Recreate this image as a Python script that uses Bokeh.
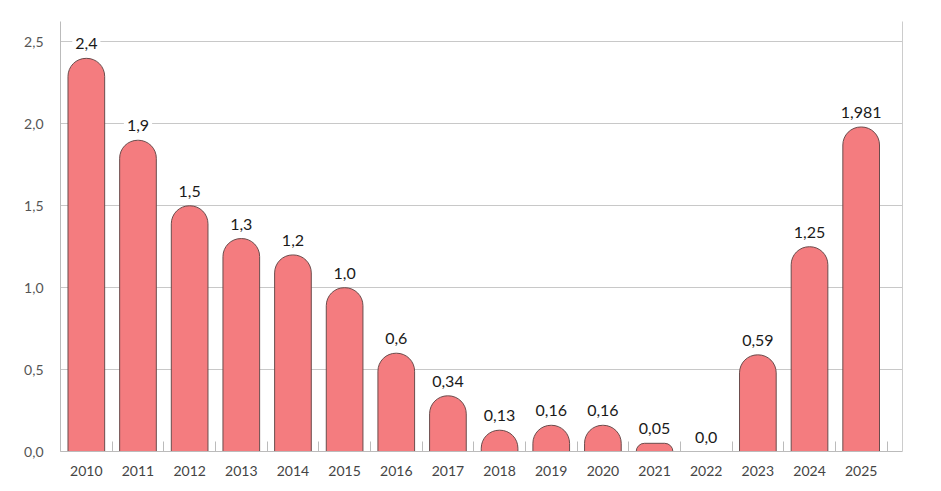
from bokeh.plotting import figure
from bokeh.models import ColumnDataSource, Range1d, FixedTicker, LinearAxis
from bokeh.embed import file_html
from bokeh.resources import INLINE
from bokeh.core.properties import value

years = ["2010", "2011", "2012", "2013", "2014", "2015", "2016", "2017",
         "2018", "2019", "2020", "2021", "2022", "2023", "2024", "2025"]
values = [2.4, 1.9, 1.5, 1.3, 1.2, 1.0, 0.6, 0.34, 0.13, 0.16, 0.16, 0.05, 0.0, 0.59, 1.25, 1.981]
labels = ["2,4", "1,9", "1,5", "1,3", "1,2", "1,0", "0,6", "0,34", "0,13", "0,16", "0,16",
          "0,05", "0,0", "0,59", "1,25", "1,981"]
y_ticks = [0.0, 0.5, 1.0, 1.5, 2.0, 2.5]
y_tick_labels = ["0,0", "0,5", "1,0", "1,5", "2,0", "2,5"]

FONT = "Lato"
xs = list(range(len(years)))
src = ColumnDataSource(dict(x=xs, top=values, label=labels))

p = figure(width=925, height=483, output_backend="svg", toolbar_location=None,
           x_range=Range1d(-0.5, 15.8), y_range=Range1d(0, 2.625),
           min_border_left=60, min_border_right=23, min_border_top=21, min_border_bottom=32)
p.outline_line_color = None
p.background_fill_color = "white"

p.vbar(x="x", top="top", bottom=0, width=0.71, source=src,
       fill_color="#f47c7f", line_color="#6a4c4c", line_width=1,
       border_radius=(18, 18, 0, 0))

p.text(x="x", y="top", text="label", source=src, text_align="center", text_baseline="bottom",
       y_offset=-6, text_font=value(FONT), text_font_size="16px", text_color="#1a1a1a",
       background_fill_color="white", padding=3)

# x axis
xa = p.xaxis[0]
xa.ticker = FixedTicker(ticks=xs, minor_ticks=[i - 0.5 for i in range(len(years) + 1)])
xa.major_label_overrides = {i: y for i, y in enumerate(years)}
xa.major_tick_line_color = None
xa.minor_tick_in = 10
xa.minor_tick_out = 0
xa.minor_tick_line_color = "#bbbbbb"
xa.axis_line_color = "#bbbbbb"
xa.major_label_text_font = FONT
xa.major_label_text_font_size = "14px"
xa.major_label_text_color = "#444444"
xa.major_label_standoff = 8

# y axis
ya = p.yaxis[0]
ya.ticker = FixedTicker(ticks=y_ticks)
ya.major_label_overrides = {t: l for t, l in zip(y_ticks, y_tick_labels)}
ya.major_tick_line_color = None
ya.minor_tick_line_color = None
ya.axis_line_color = "#bbbbbb"
ya.major_label_text_font = FONT
ya.major_label_text_font_size = "14px"
ya.major_label_text_color = "#555555"
ya.major_label_standoff = 11

ra = LinearAxis(major_tick_line_color=None, minor_tick_line_color=None,
                major_label_text_font_size="0px", axis_line_color="#cccccc",
                ticker=FixedTicker(ticks=[]))
p.add_layout(ra, "right")

p.xgrid.grid_line_color = None
p.ygrid.ticker = FixedTicker(ticks=y_ticks)
p.ygrid.grid_line_color = "#c8c8c8"

open("out.html", "w").write(file_html(p, INLINE))
